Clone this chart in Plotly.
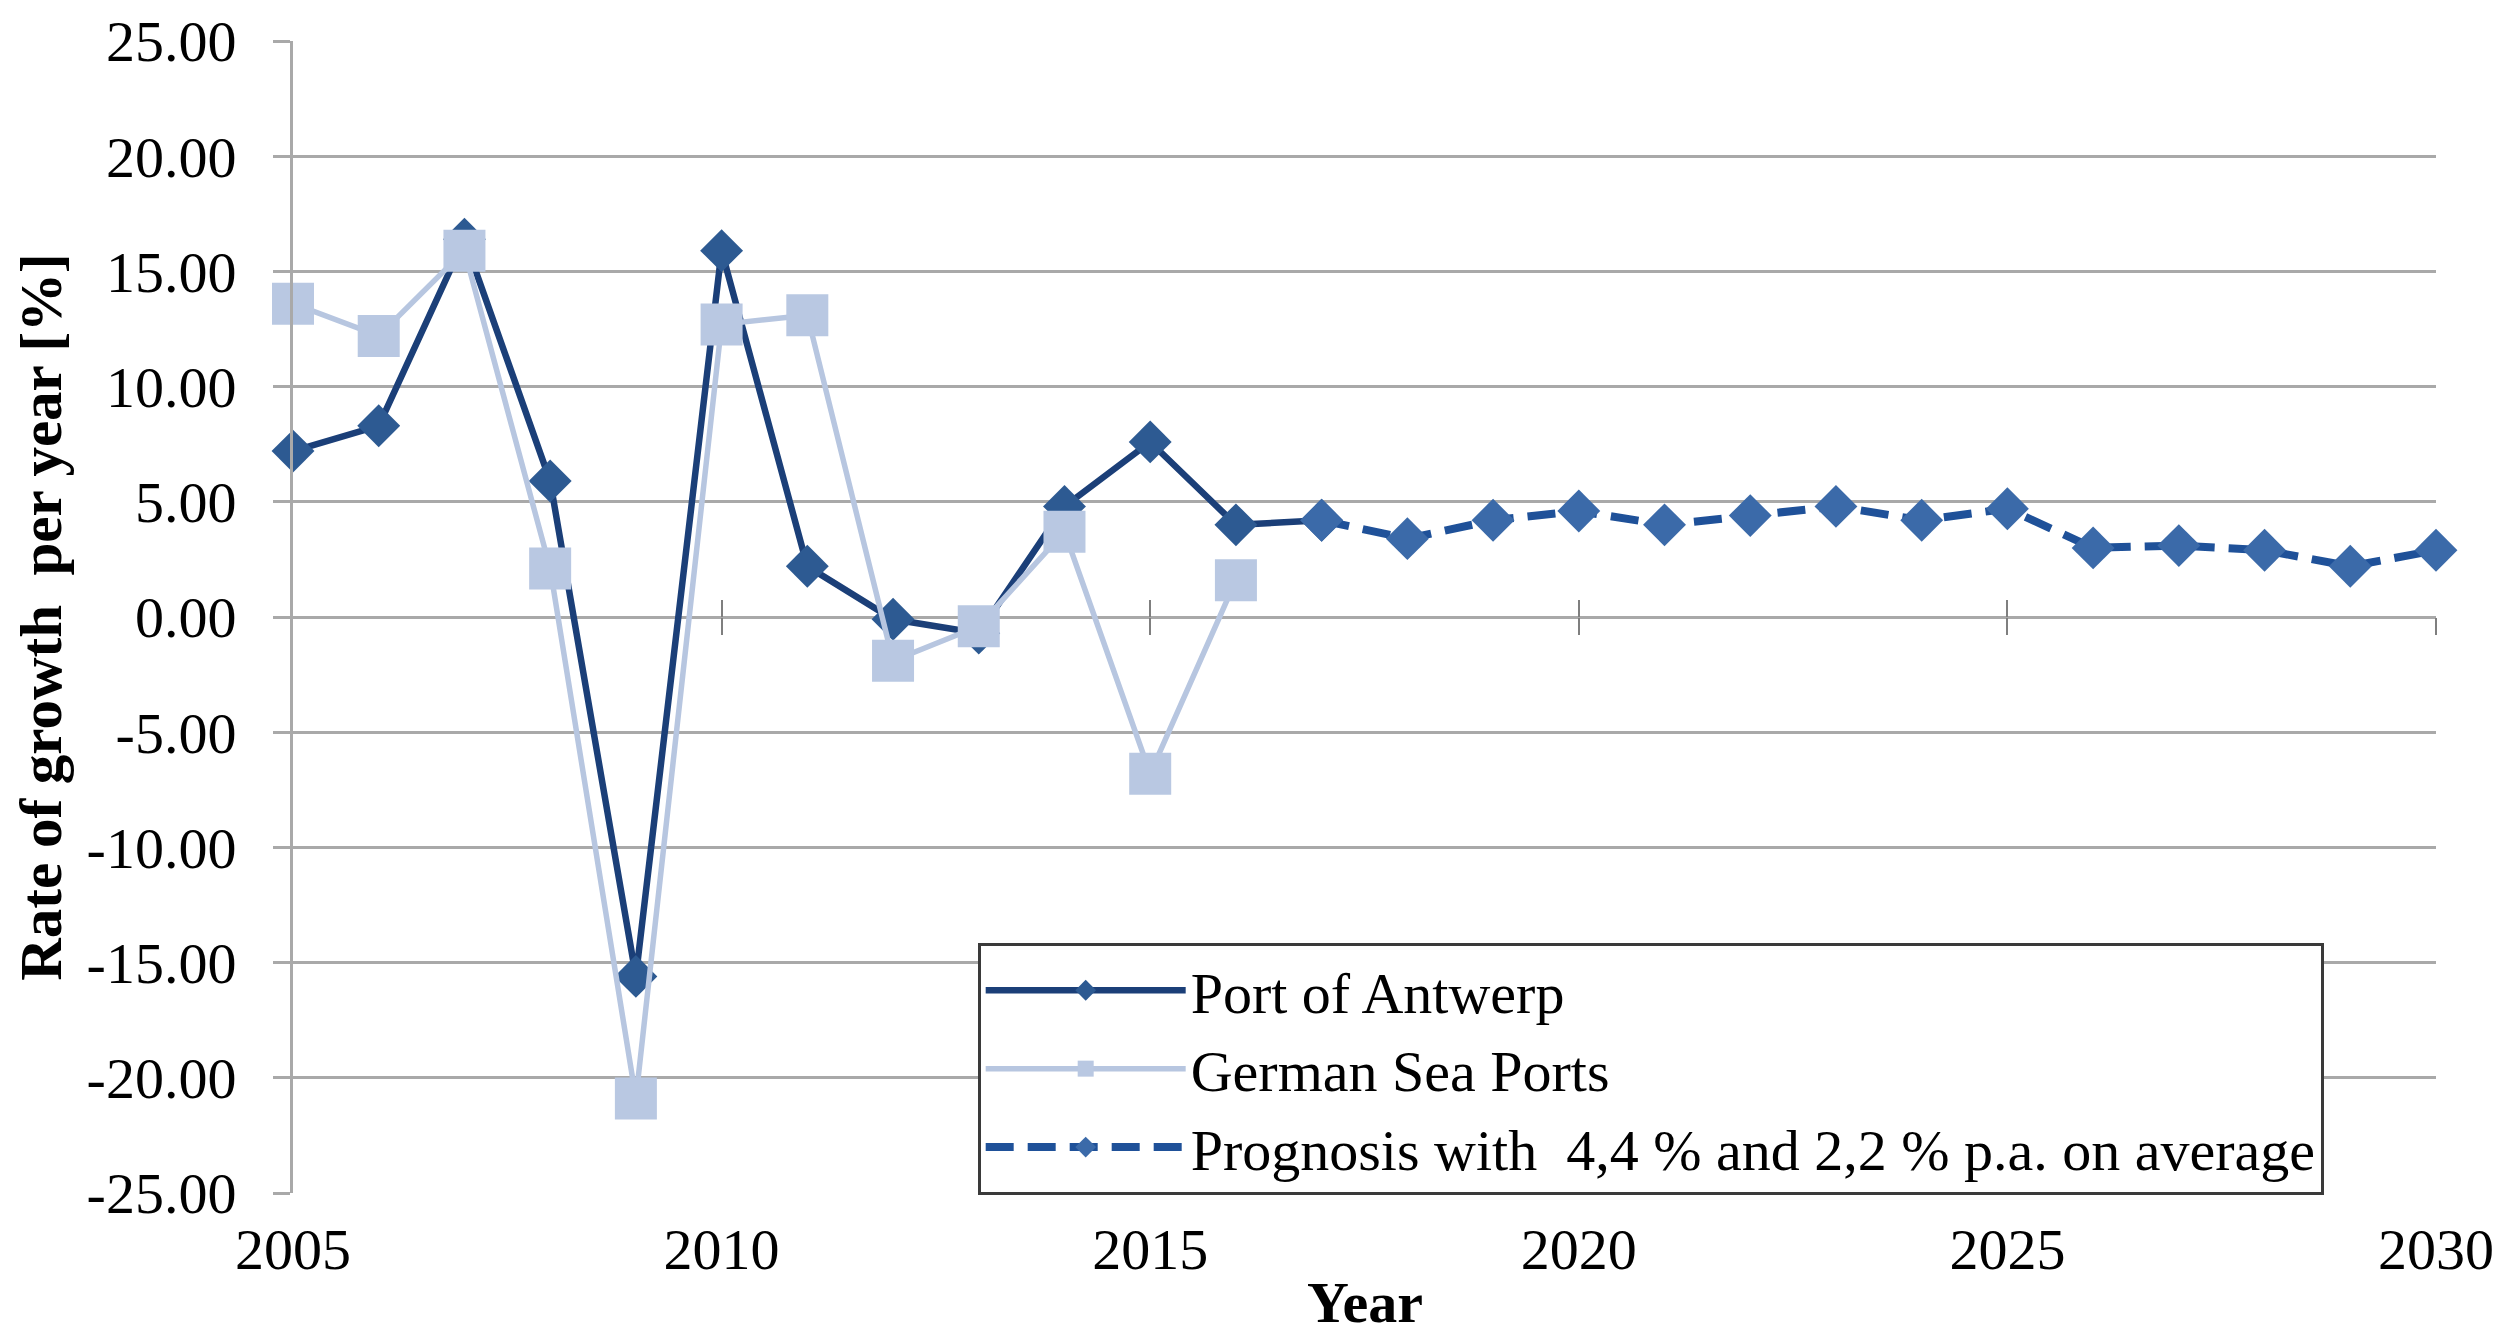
import plotly.graph_objects as go

years_hist = [2005, 2006, 2007, 2008, 2009, 2010, 2011, 2012, 2013, 2014, 2015, 2016, 2017]
antwerp = [7.2, 8.3, 16.4, 5.9, -15.6, 15.9, 2.2, -0.1, -0.7, 4.8, 7.6, 4.0, 4.2]

years_german = [2005, 2006, 2007, 2008, 2009, 2010, 2011, 2012, 2013, 2014, 2015, 2016]
german = [13.6, 12.2, 15.9, 2.1, -20.9, 12.7, 13.1, -1.9, -0.4, 3.7, -6.8, 1.6]

years_prog = [2017, 2018, 2019, 2020, 2021, 2022, 2023, 2024, 2025, 2026, 2027, 2028, 2029, 2030]
prognosis = [4.2, 3.4, 4.2, 4.6, 4.0, 4.4, 4.8, 4.2, 4.7, 3.0, 3.1, 2.9, 2.2, 2.9]

y_ticks = [-25, -20, -15, -10, -5, 0, 5, 10, 15, 20, 25]
y_tick_labels = ["-25.00", "-20.00", "-15.00", "-10.00", "-5.00", "0.00",
                 "5.00", "10.00", "15.00", "20.00", "25.00"]
x_ticks = [2005, 2010, 2015, 2020, 2025, 2030]
x_tick_labels = ["2005", "2010", "2015", "2020", "2025", "2030"]
x_range = [2005, 2030]

FONT = "Liberation Serif, Times New Roman, serif"
GRID = "#a9a9a9"

fig = go.Figure()
fig.add_trace(go.Scatter(
    x=years_hist, y=antwerp, name="Port of Antwerp", mode="lines+markers",
    line=dict(color="#1b3f78", width=6.5),
    marker=dict(symbol="diamond", size=33, color="#2d5a92"),
    cliponaxis=False))
fig.add_trace(go.Scatter(
    x=years_german, y=german, name="German Sea Ports", mode="lines+markers",
    line=dict(color="#b7c6e0", width=5.5),
    marker=dict(symbol="square", size=42, color="#b9c8e2"),
    cliponaxis=False))
fig.add_trace(go.Scatter(
    x=years_prog, y=prognosis, name="Prognosis with  4,4 % and 2,2 % p.a. on average",
    mode="lines+markers",
    line=dict(color="#1f5199", width=8, dash="28px,14px"),
    marker=dict(symbol="diamond", size=33, color="#3b6aa9"),
    cliponaxis=False))

# empty helper traces so that the zero-line tick axes get drawn
fig.add_trace(go.Scatter(x=[], y=[], xaxis="x2", yaxis="y2",
                         showlegend=False, hoverinfo="skip"))
fig.add_trace(go.Scatter(x=[], y=[], xaxis="x3", yaxis="y2",
                         showlegend=False, hoverinfo="skip"))

fig.update_layout(
    width=2500, height=1332,
    margin=dict(l=285, r=72, t=33, b=147),
    paper_bgcolor="white", plot_bgcolor="rgba(0,0,0,0)",
    font=dict(family=FONT, size=58, color="black"),
    showlegend=True,
    legend=dict(
        x=0.3195, y=0.1076, xanchor="left", yanchor="middle",
        bgcolor="white", bordercolor="#3a3a3a", borderwidth=3,
        font=dict(family=FONT, size=58, color="black"),
        itemwidth=200, tracegroupgap=0,
    ),
    xaxis=dict(
        range=x_range, tickvals=x_ticks, ticktext=x_tick_labels,
        showgrid=False, zeroline=False, showline=False, ticks="",
        ticklabelstandoff=17, automargin=False,
        tickfont=dict(family=FONT, size=58),
    ),
    yaxis=dict(
        range=[-25, 25], tickvals=y_ticks, ticktext=y_tick_labels,
        showgrid=True, gridcolor=GRID, gridwidth=3,
        zeroline=False, showline=True, linecolor=GRID, linewidth=3,
        ticks="outside", ticklen=17, tickcolor=GRID, tickwidth=3,
        ticklabelstandoff=25, automargin=False,
        tickfont=dict(family=FONT, size=58),
        title=dict(text="<b>Rate of growth  per year [%]</b>", standoff=15,
                   font=dict(family=FONT, size=59)),
    ),
    # helper axes placing cross tick marks on the zero line
    xaxis2=dict(
        domain=[0, 1], anchor="y2", range=x_range,
        tickvals=x_ticks[1:], showticklabels=False, showgrid=False,
        zeroline=False, showline=False, ticks="outside", ticklen=17,
        tickwidth=2, tickcolor="#7f7f7f", automargin=False,
    ),
    xaxis3=dict(
        overlaying="x2", anchor="y2", range=x_range,
        tickvals=x_ticks[1:], showticklabels=False, showgrid=False,
        zeroline=False, showline=False, ticks="inside", ticklen=17,
        tickwidth=2, tickcolor="#7f7f7f", automargin=False,
    ),
    yaxis2=dict(
        domain=[0.5, 1], anchor="x2", range=[0, 1],
        showticklabels=False, showgrid=False, zeroline=False,
        showline=False, ticks="", automargin=False,
    ),
    annotations=[dict(
        text="<b>Year</b>", xref="paper", yref="paper", x=0.5, y=-0.1250,
        xanchor="center", yanchor="bottom", showarrow=False,
        font=dict(family=FONT, size=58, color="black"),
    )],
)

fig.write_html("out.html")
